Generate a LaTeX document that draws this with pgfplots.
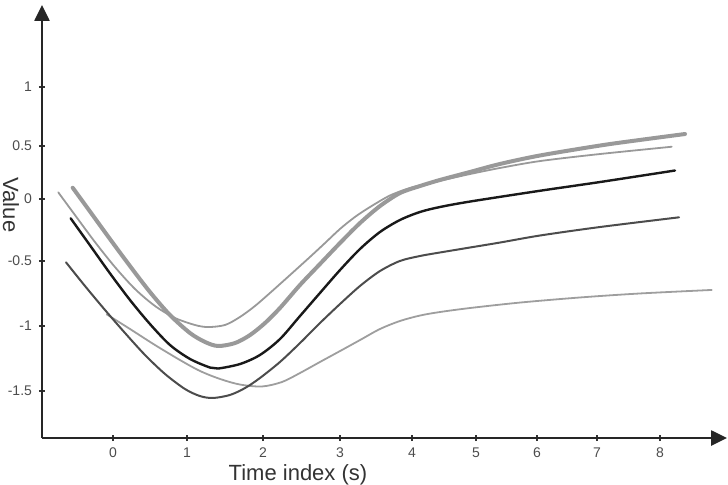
\documentclass[border=0pt]{standalone}
\usepackage{pgfplots}
\pgfplotsset{compat=1.18}
\usepackage{fontspec}
\setmainfont{Liberation Sans}
\usetikzlibrary{arrows.meta}
\begin{document}
\begin{tikzpicture}
\begin{axis}[
  scale only axis, width=342.5pt, height=216.5pt,
  xmin=-1.038, xmax=8.98, ymin=-1.924, ymax=1.647,
  axis lines=left,
  axis line style={line width=1.3pt, draw=black!85, -{Triangle[length=8pt,width=7.5pt]}},
  xtick={0,1.082,2.194,3.320,4.373,5.309,6.201,7.079,8},
  xticklabels={0,1,2,3,4,5,6,7,8},
  ytick={0.971,0.484,0.047,-0.464,-1.0,-1.536},
  yticklabels={1,0.5,0,-0.5,-1,-1.5},
  tick style={draw=black!80, line width=0.6pt},
  major tick length=3pt,
  ticklabel style={font=\fontsize{7}{8}\selectfont, text=black!70},
  /pgf/number format/assume math mode=true,
  xlabel={Time index (s)},
  xlabel style={at={(axis description cs:0,0)}, anchor=base, xshift=128pt, yshift=-21pt, font=\fontsize{11}{13}\selectfont, text=black!80},
  clip=false,
]
% light gray
\addplot[smooth, draw=black!38, line width=0.9pt, line cap=round] coordinates {
(-0.092,-0.904) (0.249,-1.025) (0.614,-1.157) (0.980,-1.281) (1.272,-1.371) (1.565,-1.437) (1.857,-1.483) (2.179,-1.499) (2.472,-1.462) (2.735,-1.388) (3.027,-1.297) (3.320,-1.207) (3.613,-1.116) (3.905,-1.025) (4.197,-0.959) (4.490,-0.914) (4.782,-0.885) (5.221,-0.852) (5.953,-0.807) (6.830,-0.765) (7.707,-0.732) (8.756,-0.703)};
% dark gray
\addplot[smooth, draw=black!70, line width=1pt, line cap=round] coordinates {
(-0.687,-0.475) (-0.410,-0.670) (-0.117,-0.868) (0.176,-1.058) (0.468,-1.239) (0.761,-1.396) (1.053,-1.520) (1.272,-1.578) (1.463,-1.594) (1.711,-1.569) (1.931,-1.512) (2.150,-1.429) (2.442,-1.297) (2.735,-1.141) (3.027,-0.976) (3.320,-0.819) (3.613,-0.670) (3.905,-0.547) (4.197,-0.464) (4.490,-0.423) (4.782,-0.394) (5.221,-0.353) (5.660,-0.312) (6.245,-0.254) (7.122,-0.184) (8.278,-0.104)};
% thin gray
\addplot[smooth, draw=black!40, line width=0.9pt, line cap=round] coordinates {
(-0.800,0.102) (-0.556,-0.085) (-0.263,-0.308) (0.029,-0.514) (0.322,-0.695) (0.614,-0.835) (0.907,-0.934) (1.199,-0.992) (1.389,-1.009) (1.638,-0.992) (1.857,-0.926) (2.077,-0.835) (2.296,-0.728) (2.589,-0.580) (2.881,-0.431) (3.101,-0.316) (3.320,-0.200) (3.539,-0.101) (3.759,-0.019) (4.051,0.076) (4.344,0.138) (4.636,0.179) (4.929,0.216) (5.221,0.253) (5.660,0.303) (6.245,0.360) (7.122,0.418) (8.171,0.478)};
% thick gray
\addplot[smooth, draw=black!40, line width=2pt, line cap=round] coordinates {
(-0.589,0.140) (-0.336,-0.056) (-0.044,-0.283) (0.249,-0.506) (0.541,-0.720) (0.834,-0.910) (1.126,-1.058) (1.346,-1.132) (1.536,-1.165) (1.784,-1.141) (2.004,-1.075) (2.223,-0.976) (2.442,-0.852) (2.735,-0.662) (3.027,-0.489) (3.320,-0.316) (3.613,-0.151) (3.905,-0.011) (4.197,0.096) (4.490,0.154) (4.782,0.204) (5.221,0.270) (5.660,0.336) (6.245,0.406) (7.122,0.488) (7.707,0.534) (8.366,0.583)};
% black
\addplot[smooth, draw=black!90, line width=1.2pt, line cap=round] coordinates {
(-0.619,-0.112) (-0.336,-0.335) (-0.044,-0.566) (0.249,-0.786) (0.541,-0.984) (0.834,-1.157) (1.126,-1.272) (1.419,-1.343) (1.536,-1.351) (1.857,-1.314) (2.150,-1.239) (2.442,-1.108) (2.735,-0.918) (3.027,-0.728) (3.320,-0.539) (3.613,-0.365) (3.905,-0.225) (4.197,-0.126) (4.490,-0.060) (4.782,-0.019) (5.221,0.026) (6.245,0.115) (7.122,0.187) (8.219,0.282)};
\end{axis}
\node[rotate=-90, anchor=base, font=\fontsize{11}{13}\selectfont, text=black!80] at ([xshift=-19.5pt,yshift=116.5pt]current axis.south west) {Value};
\pgfresetboundingbox
\path ([xshift=-21pt,yshift=-23pt]current axis.south west) rectangle ([xshift=0.5pt,yshift=2.5pt]current axis.north east);
\end{tikzpicture}
\end{document}
